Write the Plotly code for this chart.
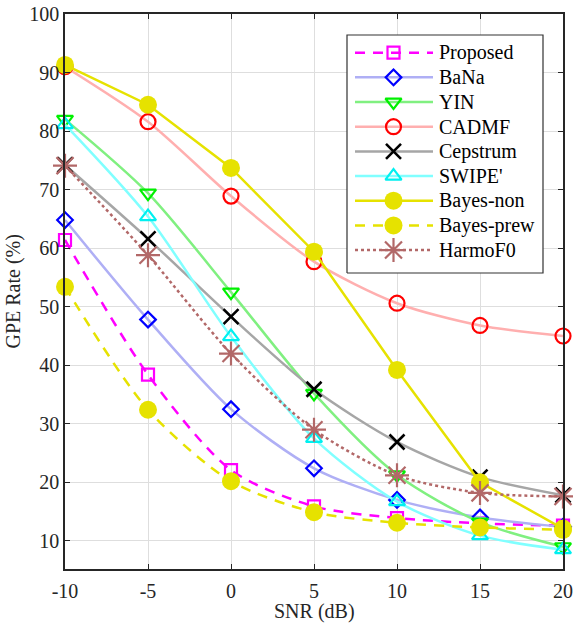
import plotly.graph_objects as go

# SNR levels (dB)
snr = [-10, -5, 0, 5, 10, 15, 20]

# GPE rate (%) per method
proposed   = [61.4, 38.4, 22.1, 15.9, 13.9, 13.0, 12.6]
bana       = [64.8, 47.8, 32.5, 22.4, 17.0, 14.0, 12.4]
yin        = [82.0, 69.4, 52.5, 35.2, 21.3, 13.2, 9.0]
cadmf      = [91.0, 81.6, 68.9, 57.7, 50.6, 46.8, 45.0]
cepstrum   = [74.2, 61.6, 48.3, 35.9, 26.9, 20.9, 17.8]
swipe      = [81.1, 65.4, 44.9, 27.5, 16.7, 10.9, 8.5]
bayes_non  = [91.3, 84.5, 73.7, 59.4, 39.2, 20.0, 12.1]
bayes_prew = [53.4, 32.4, 20.2, 14.9, 13.1, 12.3, 11.9]
harmof0    = [74.1, 58.8, 42.0, 29.0, 21.2, 18.2, 17.6]

names = ["Proposed", "BaNa", "YIN", "CADMF", "Cepstrum", "SWIPE'",
         "Bayes-non", "Bayes-prew", "HarmoF0"]
series = [proposed, bana, yin, cadmf, cepstrum, swipe, bayes_non, bayes_prew, harmof0]

YEL = "rgb(230,226,0)"
styles = [
    dict(lc="rgb(255,0,255)", dash="10px,8px", shape="spline",
         m=dict(symbol="square-open", size=12, color="rgb(255,0,255)", line=dict(width=2.2))),
    dict(lc="rgb(175,175,245)", dash="solid", shape="spline",
         m=dict(symbol="diamond-open", size=12, color="rgb(0,0,255)", line=dict(width=2.2))),
    dict(lc="rgb(128,240,128)", dash="solid", shape="spline",
         m=dict(symbol="triangle-down-open", size=14, color="rgb(0,240,0)", line=dict(width=2.2))),
    dict(lc="rgb(255,175,175)", dash="solid", shape="spline",
         m=dict(symbol="circle-open", size=15, color="rgb(255,0,0)", line=dict(width=2.2))),
    dict(lc="rgb(166,166,166)", dash="solid", shape="spline",
         m=dict(symbol="x-thin-open", size=15, color="rgb(0,0,0)", line=dict(width=2.6))),
    dict(lc="rgb(128,255,255)", dash="solid", shape="spline",
         m=dict(symbol="triangle-up-open", size=14, color="rgb(0,240,240)", line=dict(width=2.2))),
    dict(lc=YEL, dash="solid", shape="linear",
         m=dict(symbol="circle", size=18, color=YEL, line=dict(width=0))),
    dict(lc=YEL, dash="10px,8px", shape="spline",
         m=dict(symbol="circle", size=18, color=YEL, line=dict(width=0))),
    dict(lc="rgb(178,104,104)", dash="3px,3px", shape="spline",
         m=dict(symbol="asterisk-open", size=20, color="rgb(178,104,104)", line=dict(width=2.2))),
]

FONT = "Liberation Serif, Times New Roman, serif"
fig = go.Figure()

for name, vals, st in zip(names, series, styles):
    fig.add_trace(go.Scatter(
        x=snr, y=vals, name=name, mode="lines+markers",
        line=dict(color=st["lc"], width=2.5, dash=st["dash"], shape=st["shape"], smoothing=0.8),
        marker=st["m"], showlegend=False, cliponaxis=False,
    ))

# Legend panel drawn on an overlay axis spanning the plot area (0..1 both ways)
PX0, PX1, PY0, PY1 = 65, 563, 14, 569
def fx(px):
    return (px - PX0) / (PX1 - PX0)
def fy(py):
    return (PY1 - py) / (PY1 - PY0)

bx0, bx1, by0, by1 = fx(347), fx(543), fy(273), fy(35)
fig.add_trace(go.Scatter(
    x=[bx0, bx1, bx1, bx0, bx0], y=[by0, by0, by1, by1, by0],
    mode="lines", fill="toself", fillcolor="white",
    line=dict(color="rgb(50,50,50)", width=1.2),
    xaxis="x2", yaxis="y2", showlegend=False, hoverinfo="skip",
))
for i, (name, st) in enumerate(zip(names, styles)):
    yc = fy(52.7 + i * 24.67)
    fig.add_trace(go.Scatter(
        x=[fx(355), fx(433)], y=[yc, yc], mode="lines",
        line=dict(color=st["lc"], width=2.5, dash=st["dash"]),
        xaxis="x2", yaxis="y2", showlegend=False, hoverinfo="skip",
    ))
    fig.add_trace(go.Scatter(
        x=[fx(393.5)], y=[yc], mode="markers", marker=st["m"],
        xaxis="x2", yaxis="y2", showlegend=False, hoverinfo="skip",
    ))
    fig.add_annotation(
        x=fx(437), y=yc, xref="x2", yref="y2", text=name, showarrow=False,
        xanchor="left", yanchor="middle", font=dict(family=FONT, size=20, color="black"),
    )

axis_common = dict(
    showline=True, linecolor="rgb(38,38,38)", linewidth=1.5, mirror="ticks",
    ticks="inside", ticklen=5, tickwidth=1.2, tickcolor="rgb(38,38,38)",
    showgrid=True, gridcolor="rgb(222,222,222)", gridwidth=1, zeroline=False,
    tickfont=dict(family=FONT, size=20, color="rgb(38,38,38)"),
    automargin=False,
)

fig.update_layout(
    width=573, height=624,
    margin=dict(l=PX0, r=573 - PX1, t=PY0, b=624 - PY1),
    paper_bgcolor="white", plot_bgcolor="white",
    xaxis=dict(range=[-10, 20], tickvals=[-10, -5, 0, 5, 10, 15, 20],
               ticktext=["-10", "-5", "0", "5", "10", "15", "20"],
               ticklabelstandoff=3, **axis_common),
    yaxis=dict(range=[5.2, 100], tickvals=[10, 20, 30, 40, 50, 60, 70, 80, 90, 100], **axis_common),
    xaxis2=dict(overlaying="x", range=[0, 1], visible=False, fixedrange=True),
    yaxis2=dict(overlaying="y", anchor="x2", range=[0, 1], visible=False, fixedrange=True),
    showlegend=False,
)

fig.add_annotation(x=0.5, y=fy(611), xref="paper", yref="paper", text="SNR (dB)",
                   showarrow=False, font=dict(family=FONT, size=20, color="rgb(38,38,38)"),
                   xanchor="center", yanchor="middle")
fig.add_annotation(x=fx(13), y=0.5, xref="paper", yref="paper", text="GPE Rate (%)",
                   textangle=-90, showarrow=False,
                   font=dict(family=FONT, size=20, color="rgb(38,38,38)"),
                   xanchor="center", yanchor="middle")

fig.write_html("out.html")
